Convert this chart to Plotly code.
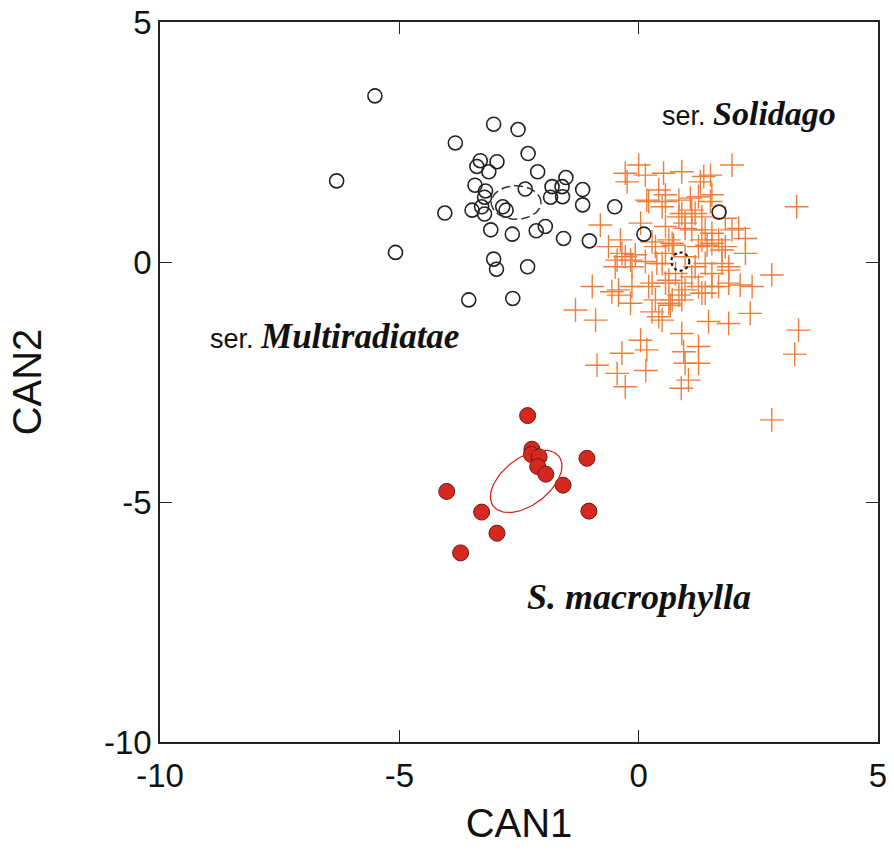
import numpy as np
import plotly.graph_objects as go

# ser. Multiradiatae (open circles)
multi_x = [-5.51, -6.31, -5.08, -4.05, -3.83, -3.03, -2.52, -2.31, -3.31, -2.96, -3.38, -3.13, -2.11,
           -3.42, -3.20, -3.22, -2.37, -1.81, -1.60, -1.52, -1.17, -1.84, -1.59, -1.17, -3.48, -3.28,
           -3.22, -2.84, -2.77, -3.09, -2.64, -2.14, -1.95, -1.57, -1.03, -3.03, -2.97, -2.32, -3.55,
           -2.63, -0.50, 0.11, 1.68]
multi_y = [3.46, 1.69, 0.20, 1.02, 2.48, 2.87, 2.76, 2.26, 2.11, 2.09, 1.99, 1.88, 1.88,
           1.60, 1.48, 1.35, 1.52, 1.57, 1.57, 1.76, 1.51, 1.35, 1.36, 1.19, 1.08, 1.15,
           1.00, 1.15, 1.08, 0.67, 0.58, 0.65, 0.74, 0.49, 0.44, 0.06, -0.15, -0.10, -0.79,
           -0.76, 1.15, 0.58, 1.04]

# ser. Solidago (orange crosses)
soli_x = [0.00, -0.28, 0.14, 0.52, 0.90, 1.36, 1.50, 1.95, -0.24, 0.42, 0.56, 0.17, 0.49, 1.08, 1.25,
          1.50, 1.53, 1.11, 0.90, 1.32, -0.80, 0.04, 0.56, 0.97, 1.11, 1.39, 1.53, 1.95, 2.23, -0.63,
          -0.38, 0.28, 0.35, 0.63, 0.73, 1.32, 1.43, 1.67, 1.81, 2.23, -0.28, -0.17, -0.45, -0.07, 0.14,
          0.38, 0.56, 1.18, 1.39, 1.74, 1.88, 2.78, 3.30, -0.97, -0.56, -0.14, 0.28, 0.63, 1.11, 1.25,
          1.53, 1.88, 2.12, 2.37, -0.42, -0.17, 0.35, 0.63, 0.84, 1.32, -1.32, -0.90, 0.28, 0.49, 1.46,
          1.88, 2.33, 0.90, 3.34, 0.66, 3.26, 0.04, 0.17, -0.35, -0.87, -0.45, -0.28, 0.15, 0.94, 1.25,
          0.97, 1.25, 1.04, 0.89, 2.78, -0.35, -0.49, -0.14, 0.49, -0.42, 0.21, 0.56, 0.70, 0.42, 0.77,
          0.90, 0.97, 1.25, 1.53, 1.74, 1.88, 1.53, 1.67, 1.39, 0.97, 0.90, 0.21, 0.56, 0.84, 0.84,
          1.29, 1.18, 1.81, 0.97, 2.09, 0.70]
soli_y = [2.02, 1.85, 1.81, 1.85, 1.88, 1.78, 1.81, 2.02, 1.67, 1.50, 1.40, 1.29, 1.15, 1.33, 1.36,
          1.26, 1.40, 1.08, 1.01, 0.94, 0.77, 0.81, 0.74, 0.70, 0.67, 0.67, 0.60, 0.67, 0.49, 0.32,
          0.46, 0.42, 0.32, 0.46, 0.35, 0.46, 0.35, 0.46, 0.32, 0.18, 0.11, 0.04, 0.04, 0.15, 0.01,
          -0.03, 0.18, -0.10, -0.03, -0.03, -0.17, -0.27, 1.15, -0.51, -0.62, -0.51, -0.44, -0.38, -0.31, -0.51,
          -0.51, -0.44, -0.48, -0.51, -0.69, -0.86, -0.79, -0.86, -0.69, -0.65, -1.00, -1.21, -1.04, -1.21, -1.24,
          -1.28, -1.07, -1.49, -1.42, -0.90, -1.92, -1.63, -1.83, -1.90, -2.15, -2.32, -2.60, -2.26, -1.87, -1.76,
          -2.11, -2.11, -2.46, -2.63, -3.29, 0.18, -0.10, -0.10, -0.03, -0.58, -0.51, -0.44, -0.79, -1.14, -0.24,
          -0.44, 0.11, 0.32, 0.39, 0.25, -0.10, -0.24, -0.51, -0.65, -0.58, -0.79, 1.26, 1.26, 1.29, 0.94,
          1.67, 1.01, 0.91, 0.81, 0.70, 0.39]

# S. macrophylla (red filled circles)
macro_x = [-2.32, -2.23, -2.24, -2.08, -2.11, -1.94, -1.58, -1.08, -1.04, -4.01, -3.28, -2.96, -3.72]
macro_y = [-3.20, -3.90, -4.01, -4.06, -4.26, -4.42, -4.65, -4.09, -5.19, -4.78, -5.21, -5.65, -6.06]

# group ellipses: center x, center y, semi-axis a, semi-axis b, angle (deg)
ell_multi = (-2.56, 1.24, 0.52, 0.35, 0.0)
ell_soli = (0.87, 0.01, 0.19, 0.19, 0.0)
ell_macro = (-2.35, -4.57, 0.86, 0.49, 37.0)

tick_vals = [-10, -5, 0, 5]
tick_text = ["-10", "-5", "0", "5"]

ORANGE = "rgb(240,125,55)"
RED = "rgb(214,40,30)"


def ellipse(params, n=120):
    cx, cy, a, b, ang = params
    t = np.linspace(0, 2 * np.pi, n)
    th = np.deg2rad(ang)
    x = cx + a * np.cos(t) * np.cos(th) - b * np.sin(t) * np.sin(th)
    y = cy + a * np.cos(t) * np.sin(th) + b * np.sin(t) * np.cos(th)
    return x, y


fig = go.Figure()

fig.add_trace(go.Scatter(
    x=soli_x, y=soli_y, mode="markers",
    marker=dict(symbol="cross-thin", size=17, line=dict(color=ORANGE, width=1.4)),
    showlegend=False))

fig.add_trace(go.Scatter(
    x=multi_x, y=multi_y, mode="markers",
    marker=dict(symbol="circle-open", size=14, color="#222222", line=dict(width=1.6)),
    showlegend=False))

fig.add_trace(go.Scatter(
    x=macro_x, y=macro_y, mode="markers",
    marker=dict(symbol="circle", size=16, color=RED, line=dict(color="#6a1a12", width=1)),
    showlegend=False))

ex, ey = ellipse(ell_multi)
fig.add_trace(go.Scatter(x=ex, y=ey, mode="lines",
                         line=dict(color="#333333", width=1.5, dash="9px,4px"), showlegend=False))
ex, ey = ellipse(ell_soli)
fig.add_trace(go.Scatter(x=ex, y=ey, mode="lines",
                         line=dict(color="#111111", width=2, dash="dot"), showlegend=False))
ex, ey = ellipse(ell_macro)
fig.add_trace(go.Scatter(x=ex, y=ey, mode="lines",
                         line=dict(color=RED, width=1.3), showlegend=False))

serif = "Liberation Serif, Times New Roman, serif"
ann = [
    (2.3, 3.1, "ser. <span style='font-family:%s;font-size:34px'><b><i>Solidago</i></b></span>" % serif),
    (-6.35, -1.56, "ser. <span style='font-family:%s;font-size:35px'><b><i>Multiradiatae</i></b></span>" % serif),
    (0.0, -6.98, "<span style='font-family:%s;font-size:36px'><b><i>S. macrophylla</i></b></span>" % serif),
]
for x, y, t in ann:
    fig.add_annotation(x=x, y=y, text=t, showarrow=False,
                       font=dict(family="Liberation Sans, Arial", size=27, color="#111111"))

axis_common = dict(
    range=[-10, 5], tickvals=tick_vals, ticktext=tick_text, ticks="inside", ticklen=12, tickwidth=1.3,
    tickcolor="#222222", showline=True, linecolor="#222222", linewidth=1.5, mirror="ticks",
    showgrid=False, zeroline=False, automargin=False,
    tickfont=dict(family="Liberation Sans, Arial", size=33, color="#111111"),
    title_font=dict(family="Liberation Sans Narrow, Arial Narrow, Liberation Sans", size=40, color="#111111"),
)

fig.update_layout(
    width=894, height=850,
    margin=dict(l=160, r=16, t=22, b=108),
    plot_bgcolor="white", paper_bgcolor="white",
    xaxis=dict(axis_common, title=dict(text="CAN1", standoff=16), ticklabelstandoff=4),
    yaxis=dict(axis_common, title=dict(text="CAN2", standoff=50)),
)

fig.write_html("out.html")
